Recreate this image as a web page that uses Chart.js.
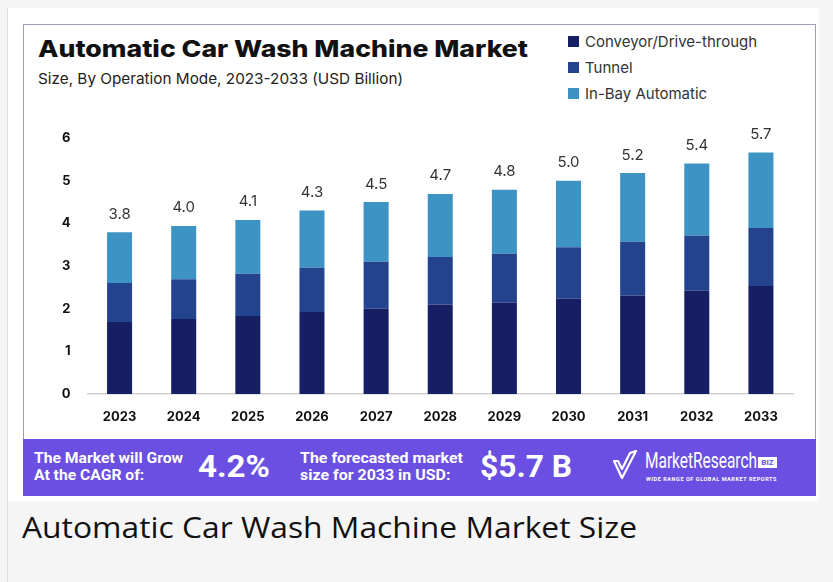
<!DOCTYPE html>
<html>
<head>
<meta charset="utf-8">
<script src="https://cdn.jsdelivr.net/npm/chart.js@4"></script>
<style>
  html, body { margin: 0; padding: 0; }
  body { width: 833px; height: 582px; background: #f5f5f5; position: relative; overflow: hidden; font-family: Inter, "Open Sans", sans-serif; }
  .frame { position: absolute; left: 7px; top: 8px; width: 1px; height: 574px; background: #dedede; }
  .card { position: absolute; left: 8px; top: 8px; width: 811px; height: 493px; background: #fff; }
  .img { position: absolute; left: 23px; top: 24px; width: 791px; height: 470px; border: 1px solid #9c9cbc; border-bottom: none; background: #fff; }
  .fit { transform-origin: left top; white-space: nowrap; }
  .title { position: absolute; left: 38px; top: 35px; font: 800 23px Inter, sans-serif; color: #111; }
  .sub { position: absolute; left: 38px; top: 69px; font: 400 15px Inter, sans-serif; color: #222; }
  .legend { position: absolute; left: 568px; top: 28px; }
  .legend div { height: 26px; font: 400 15px Inter, sans-serif; color: #333; display: flex; align-items: center; white-space: nowrap; }
  .legend span { display: inline-block; width: 11px; height: 11px; margin-right: 6px; }
  .chartbox { position: absolute; left: 23px; top: 110px; width: 792px; height: 328px; }
  .banner { position: absolute; left: 23px; top: 439px; width: 793px; height: 57px; background: #6a4fe2; color: #fff; font-family: Roboto, sans-serif; }
  .banner .t { position: absolute; font-weight: 700; font-size: 15px; line-height: 17px; top: 11px; }
  .banner .big { position: absolute; font-weight: 700; font-size: 31px; line-height: 36px; top: 10px; }
  .logo { position: absolute; left: 589px; top: 9px; }
  .logo .name { position: absolute; left: 33px; top: 0; font: 400 22px/26px Roboto, sans-serif; }
  .logo .biz { position: absolute; left: 146px; top: 9px; width: 19px; height: 11px; background: #fff; color: #6a4fe2; font: 700 8px/11px Roboto, sans-serif; text-align: center; }
  .logo .tag { position: absolute; left: 34px; top: 27px; font: 700 6px Roboto, sans-serif; letter-spacing: 0.6px; }
  .caption { position: absolute; left: 22px; top: 507px; font: 400 29px "Open Sans", sans-serif; color: #111; }
</style>
</head>
<body>
<div class="frame"></div>
<div class="card"></div>
<div class="img"></div>
<div class="title fit" id="title">Automatic Car Wash Machine Market</div>
<div class="sub fit" id="sub">Size, By Operation Mode, 2023-2033 (USD Billion)</div>
<div class="legend" id="legend"></div>
<div class="chartbox"><canvas id="chart"></canvas></div>
<div class="banner">
  <div class="t fit" id="b1" style="left:11px">The Market will Grow<br>At the CAGR of:</div>
  <div class="big fit" id="b2" style="left:175px">4.2%</div>
  <div class="t fit" id="b3" style="left:277px">The forecasted market<br>size for 2033 in USD:</div>
  <div class="big fit" id="b4" style="left:457px">$5.7 B</div>
  <div class="logo">
    <svg width="26" height="34" viewBox="0 0 26 34" style="position:absolute;left:0;top:0">
      <path d="M2 13 L10 30 L24 3 L18 5 L10 21 L6 13 Z" fill="none" stroke="#fff" stroke-width="2.2" stroke-linejoin="round"/>
    </svg>
    <div class="name fit" id="logoName">MarketResearch</div>
    <div class="biz">BIZ</div>
    <div class="tag fit" id="logoTag">WIDE RANGE OF GLOBAL MARKET REPORTS</div>
  </div>
</div>
<div class="caption fit" id="caption">Automatic Car Wash Machine Market Size</div>

<script>
// Chart data
const years = ['2023', '2024', '2025', '2026', '2027', '2028', '2029', '2030', '2031', '2032', '2033'];
const seriesNames = ['Conveyor/Drive-through', 'Tunnel', 'In-Bay Automatic'];
const seriesColors = ['#161f63', '#24438f', '#3d93c3'];
const conveyor = [1.69, 1.76, 1.83, 1.92, 2.00, 2.10, 2.14, 2.24, 2.31, 2.42, 2.53];
const tunnel = [0.91, 0.93, 0.99, 1.04, 1.10, 1.11, 1.15, 1.20, 1.26, 1.29, 1.36];
const inBay = [1.19, 1.25, 1.26, 1.34, 1.40, 1.48, 1.50, 1.56, 1.61, 1.69, 1.77];
const totalLabels = ['3.8', '4.0', '4.1', '4.3', '4.5', '4.7', '4.8', '5.0', '5.2', '5.4', '5.7'];
const yTicks = [0, 1, 2, 3, 4, 5, 6];

// stretch texts to the widths seen in the picture
function fitWidth(id, w) {
  const el = document.getElementById(id);
  el.style.display = 'inline-block';
  el.style.transform = 'scaleX(' + (w / el.getBoundingClientRect().width) + ')';
}
fitWidth('title', 490);
fitWidth('sub', 365);
fitWidth('b1', 149);
fitWidth('b2', 72);
fitWidth('b3', 163);
fitWidth('b4', 92);
fitWidth('logoName', 112);
fitWidth('logoTag', 131);
fitWidth('caption', 615);

// html legend from the series arrays
const legendEl = document.getElementById('legend');
seriesNames.forEach((name, i) => {
  const row = document.createElement('div');
  row.innerHTML = '<span style="background:' + seriesColors[i] + '"></span>' + name;
  legendEl.appendChild(row);
});

// totals above each stacked bar
const totalsPlugin = {
  id: 'totals',
  afterDatasetsDraw(chart) {
    const ctx = chart.ctx;
    const top = chart.getDatasetMeta(chart.data.datasets.length - 1);
    ctx.save();
    ctx.font = '400 15px Inter, sans-serif';
    ctx.fillStyle = '#333';
    ctx.textAlign = 'center';
    ctx.textBaseline = 'middle';
    top.data.forEach((bar, i) => {
      ctx.fillText(totalLabels[i], bar.x, bar.y - 18);
    });
    ctx.restore();
  }
};

const chartCtx = document.getElementById('chart').getContext('2d');
const chart = new Chart(chartCtx, {
  type: 'bar',
  data: {
    labels: years,
    datasets: [conveyor, tunnel, inBay].map((d, i) => ({
      label: seriesNames[i],
      data: d,
      backgroundColor: seriesColors[i],
      barPercentage: 0.39,
      categoryPercentage: 1
    }))
  },
  options: {
    responsive: true,
    maintainAspectRatio: false,
    animation: false,
    layout: { padding: { top: 28, right: 22, left: 0, bottom: 0 } },
    plugins: {
      legend: { display: false },
      tooltip: { enabled: false }
    },
    scales: {
      x: {
        stacked: true,
        grid: { display: false, drawTicks: false },
        border: { color: '#d0d0d0', width: 1.5 },
        ticks: { color: '#111', font: { family: 'Inter', weight: 'bold', size: 13 }, padding: 15 },
        afterFit: s => { s.height = 44; }
      },
      y: {
        stacked: true,
        min: 0,
        max: 6,
        afterBuildTicks: s => { s.ticks = yTicks.map(v => ({ value: v })); },
        grid: { display: false, drawTicks: false },
        border: { display: false },
        ticks: { color: '#111', font: { family: 'Inter', weight: 'bold', size: 13 }, padding: 17 },
        afterFit: s => { s.width = 64.5; }
      }
    }
  },
  plugins: [totalsPlugin]
});
</script>
</body>
</html>
